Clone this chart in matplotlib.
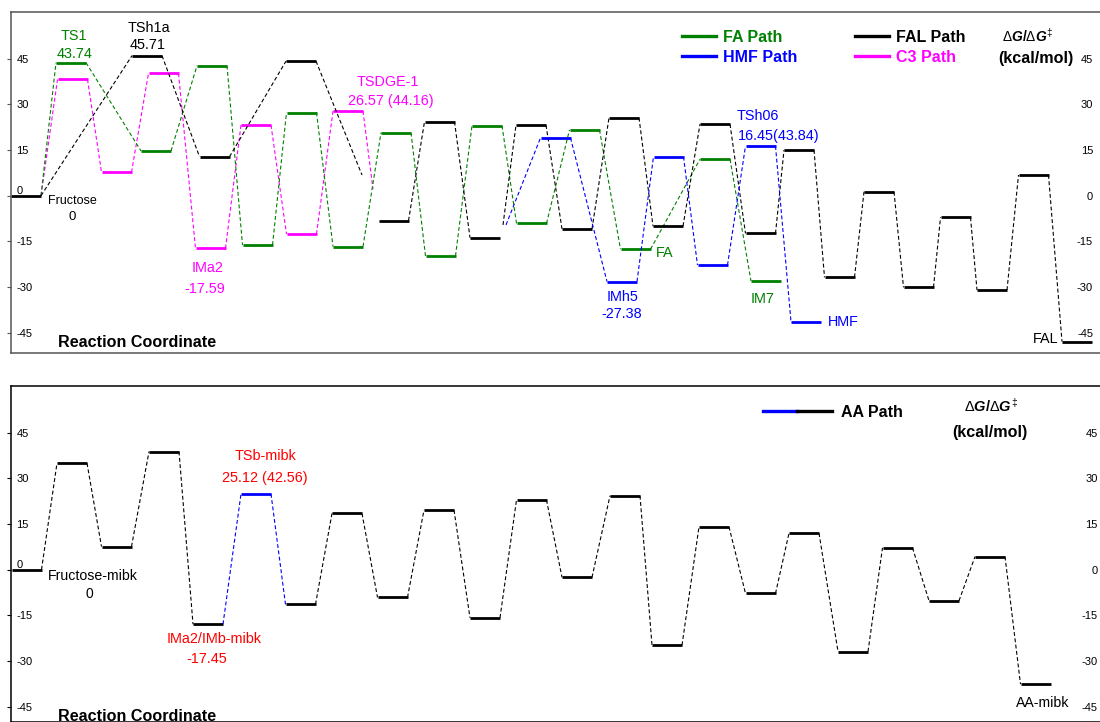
import matplotlib
matplotlib.use('Agg')
import matplotlib.pyplot as plt
from matplotlib.lines import Line2D
from matplotlib.legend_handler import HandlerTuple

plt.rcParams['font.family'] = ['Liberation Sans', 'DejaVu Sans']
plt.rcParams['mathtext.fontset'] = 'custom'
plt.rcParams['mathtext.rm'] = 'Liberation Sans'
plt.rcParams['mathtext.it'] = 'Liberation Sans:italic:bold'
plt.rcParams['mathtext.bf'] = 'Liberation Sans:bold'

GREEN = '#008000'; BLUE = '#0000ff'; MAG = '#ff00ff'; RED = '#ff0000'; BLK = 'black'

# ---------------- top panel data: level centre on reaction coordinate, energy (kcal/mol)
FAL_A_X = [26, 147, 214.5, 301]
FAL_A_E = [0, 46.0, 12.8, 44.2]
FAL_A_TAIL = (362, 6.8)                 # dashed line that stops in the air
FAL_B_X = [393.5, 439.5, 485]
FAL_B_E = [-8.2, 24.3, -13.8]
FAL_C_HEAD = (503, -9.6)
FAL_C_X = [531, 577, 624, 668, 715, 760.5, 799, 839.5, 879, 918.5, 955.5, 992, 1033.5, 1077]
FAL_C_E = [23.2, -10.9, 25.6, -10.0, 23.5, -12.4, 15.0, -26.8, 1.3, -30.1, -7.1, -31.0, 6.8, -47.9]

FA_X = [71, 156, 212, 257.5, 301.5, 348, 396, 440.5, 487, 531.5, 584.5, 635.5, 715, 766]
FA_E = [43.7, 14.7, 42.7, -16.2, 27.3, -16.7, 20.7, -19.8, 23.0, -9.1, 21.6, -17.6, 12.0, -28.0]

HMF_HEAD = (506, -9.6)
HMF_X = [555.5, 622, 668.5, 712.5, 760.5, 806]
HMF_E = [19.0, -28.2, 12.8, -22.8, 16.3, -41.4]

C3_X = [72.5, 116.5, 163.5, 210.5, 256, 301.5, 348]
C3_E = [38.2, 7.7, 40.2, -17.3, 23.2, -12.6, 27.8]
C3_TAIL = (373, 2.2)

# ---------------- bottom panel data
AA_X = [26.5, 72, 116.5, 164, 208, 256, 300.5, 347, 392.5, 439, 485, 531.5, 577, 625,
        667, 714, 760.5, 804, 853, 897.5, 944, 990, 1035.5]
AA_E = [0, 35.0, 7.6, 38.8, -17.9, 24.9, -11.4, 18.5, -9.1, 19.6, -15.8, 22.9, -2.5, 24.3,
        -24.8, 14.1, -7.8, 12.0, -26.9, 7.2, -10.2, 4.3, -37.6]
AA_BLUE = [5]          # index of the level drawn in blue

TICKS = [-45, -30, -15, 0, 15, 30, 45]
W = 30


def path(ax, xs, es, colors, head=None, tail=None):
    if isinstance(colors, str):
        colors = [colors] * len(xs)
    for x, e, c in zip(xs, es, colors):
        ax.plot([x - W/2, x + W/2], [e, e], color=c, lw=2.0, solid_capstyle='butt')
    segs = []
    for i in range(len(xs) - 1):
        c = colors[i] if colors[i] != BLK else colors[i + 1]
        segs.append(((xs[i] + W/2, es[i]), (xs[i+1] - W/2, es[i+1]), c))
    if head:
        segs.append((head, (xs[0] - W/2, es[0]), colors[0]))
    if tail:
        segs.append(((xs[-1] + W/2, es[-1]), tail, colors[-1]))
    for (x0, y0), (x1, y1), c in segs:
        ax.plot([x0, x1], [y0, y1], color=c, lw=0.8, ls=(0, (3.5, 2.2)))


def frame(ax, ylim, sc, rpad):
    ax.set_xlim(10.7, 1100)
    ax.set_ylim(*ylim)
    ax.set_xticks([])
    ax.set_yticks(TICKS)
    ax.set_yticklabels([str(t) for t in TICKS])
    ax.tick_params(axis='y', direction='out', length=3, width=0.8, pad=-7,
                   labelsize=8, color=sc)
    for lab in ax.get_yticklabels():
        lab.set_ha('left')
        if lab.get_text() == '0':
            lab.set_va('bottom')
    ax.spines['right'].set_visible(False)
    for s in ['left', 'top', 'bottom']:
        ax.spines[s].set_color(sc)
        ax.spines[s].set_linewidth(1.1)
    ar = ax.twinx()
    ar.set_ylim(*ylim)
    ar.set_yticks(TICKS)
    ar.set_yticklabels([str(t) for t in TICKS])
    ar.tick_params(axis='y', length=0, pad=rpad, labelsize=8)
    for lab in ar.get_yticklabels():
        lab.set_ha('right')
    for s in ar.spines.values():
        s.set_visible(False)
    return ar


fig = plt.figure(figsize=(11, 7.22), dpi=100)
ax1 = fig.add_axes([10.7/1100, 1 - 352.7/722, 1 - 10.7/1100, (352.7 - 11.7)/722])
ax2 = fig.add_axes([10.7/1100, 0, 1 - 10.7/1100, (722 - 386)/722])

frame(ax1, (-51.56, 60.43), '#555555', -5)
frame(ax2, (-50.03, 60.35), 'black', -1.5)

# ---------------- top panel
path(ax1, C3_X, C3_E, MAG, head=(FAL_A_X[0] + W/2, FAL_A_E[0]), tail=C3_TAIL)
path(ax1, FA_X, FA_E, GREEN, head=(FAL_A_X[0] + W/2, FAL_A_E[0]))
path(ax1, FAL_A_X, FAL_A_E, BLK, tail=FAL_A_TAIL)
path(ax1, FAL_B_X, FAL_B_E, BLK)
path(ax1, FAL_C_X, FAL_C_E, BLK, head=FAL_C_HEAD)
path(ax1, HMF_X, HMF_E, BLUE, head=HMF_HEAD)

fs = 10.4
ax1.text(74, 52.5, 'TS1', color=GREEN, fontsize=fs, ha='center', va='center')
ax1.text(75, 46.6, '43.74', color=GREEN, fontsize=fs, ha='center', va='center')
ax1.text(148.5, 55.0, 'TSh1a', color=BLK, fontsize=fs, ha='center', va='center')
ax1.text(147.5, 49.5, '45.71', color=BLK, fontsize=fs, ha='center', va='center')
ax1.text(72.5, -1.6, 'Fructose', color=BLK, fontsize=9, ha='center', va='center')
ax1.text(72, -6.9, '0', color=BLK, fontsize=9.5, ha='center', va='center')
ax1.text(208, -23.8, 'IMa2', color=MAG, fontsize=fs, ha='center', va='center')
ax1.text(205, -30.7, '-17.59', color=MAG, fontsize=fs, ha='center', va='center')
ax1.text(388, 37.3, 'TSDGE-1', color=MAG, fontsize=fs, ha='center', va='center')
ax1.text(391, 31.1, '26.57 (44.16)', color=MAG, fontsize=fs, ha='center', va='center')
ax1.text(656, -18.8, 'FA', color=GREEN, fontsize=fs, ha='left', va='center')
ax1.text(622.7, -33.2, 'IMh5', color=BLUE, fontsize=fs, ha='center', va='center')
ax1.text(622, -38.9, '-27.38', color=BLUE, fontsize=fs, ha='center', va='center')
ax1.text(737, 26.2, 'TSh06', color=BLUE, fontsize=fs, ha='left', va='center')
ax1.text(738, 19.6, '16.45(43.84)', color=BLUE, fontsize=fs, ha='left', va='center')
ax1.text(763, -34.0, 'IM7', color=GREEN, fontsize=fs, ha='center', va='center')
ax1.text(828, -41.4, 'HMF', color=BLUE, fontsize=fs, ha='left', va='center')
ax1.text(1058, -47.2, 'FAL', color=BLK, fontsize=fs, ha='right', va='center')
ax1.text(58, -48.1, 'Reaction Coordinate', fontsize=11.6, fontweight='bold', ha='left', va='center')
ax1.text(1028, 52.4, r'$\Delta G\mathbf{/}\Delta G^{\ddagger}$', fontsize=10, ha='center', va='center')
ax1.text(1036, 44.9, '(kcal/mol)', fontsize=11.6, fontweight='bold', ha='center', va='center')

legkw = dict(loc='upper left', bbox_transform=fig.transFigure, frameon=False,
             prop={'weight': 'bold', 'size': 11.5}, handlelength=2.1, handletextpad=0.45,
             borderpad=0, borderaxespad=0, labelspacing=0.3)
h = lambda c: Line2D([], [], color=c, lw=2.4)
leg1 = ax1.legend([h(GREEN), h(BLUE)], ['FA Path', 'HMF Path'], labelcolor=[GREEN, BLUE],
                  bbox_to_anchor=(682/1100, 1 - 30/722), **legkw)
ax1.add_artist(leg1)
ax1.legend([h(BLK), h(MAG)], ['FAL Path', 'C3 Path'], labelcolor=[BLK, MAG],
           bbox_to_anchor=(855/1100, 1 - 30/722), **legkw)

# ---------------- bottom panel
path(ax2, AA_X, AA_E, [BLUE if i in AA_BLUE else BLK for i in range(len(AA_X))])
ax2.text(93.3, -2.0, 'Fructose-mibk', color=BLK, fontsize=10.2, ha='center', va='center')
ax2.text(89.3, -8.1, '0', color=BLK, fontsize=10, ha='center', va='center')
ax2.text(265.8, 37.4, 'TSb-mibk', color=RED, fontsize=fs, ha='center', va='center')
ax2.text(265, 30.0, '25.12 (42.56)', color=RED, fontsize=fs, ha='center', va='center')
ax2.text(214, -22.9, 'IMa2/IMb-mibk', color=RED, fontsize=fs, ha='center', va='center')
ax2.text(206.7, -29.4, '-17.45', color=RED, fontsize=fs, ha='center', va='center')
ax2.text(1042.5, -43.9, 'AA-mibk', color=BLK, fontsize=10.2, ha='center', va='center')
ax2.text(58, -48.3, 'Reaction Coordinate', fontsize=11.6, fontweight='bold', ha='left', va='center')
ax2.text(991, 53.8, r'$\Delta G\mathbf{/}\Delta G^{\ddagger}$', fontsize=10.5, ha='center', va='center')
ax2.text(990, 45.2, '(kcal/mol)', fontsize=11.6, fontweight='bold', ha='center', va='center')

aa_kw = dict(legkw)
aa_kw['handlelength'] = 4.3
aa_kw['handletextpad'] = 0.6
ax2.legend([(h(BLUE), h(BLK))], ['AA Path'], labelcolor=[BLK],
           handler_map={tuple: HandlerTuple(ndivide=None, pad=0)},
           bbox_to_anchor=(763/1100, 1 - 405/722), **aa_kw)

fig.savefig('out.png', dpi=100)
